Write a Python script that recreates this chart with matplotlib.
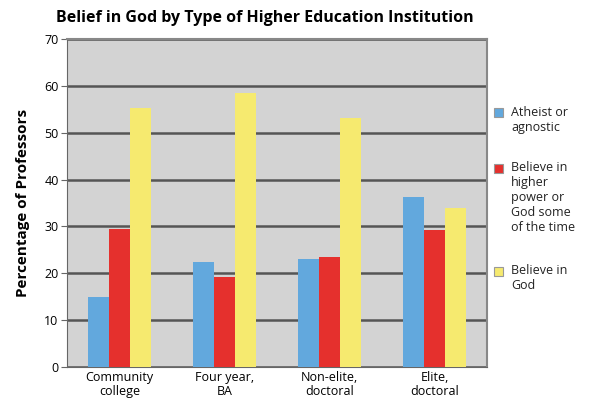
import matplotlib
matplotlib.use("Agg")
import matplotlib.pyplot as plt
import numpy as np
from matplotlib.patches import Rectangle

categories = ["Community\ncollege", "Four year,\nBA", "Non-elite,\ndoctoral", "Elite,\ndoctoral"]
series_names = ["Atheist or\nagnostic", "Believe in\nhigher\npower or\nGod some\nof the time", "Believe in\nGod"]
atheist = [15, 22.5, 23, 36.3]
higher_power = [29.5, 19.2, 23.4, 29.2]
believe_god = [55.3, 58.5, 53.2, 34]
yticks = [0, 10, 20, 30, 40, 50, 60, 70]

colors = ["#62a8dd", "#e5302d", "#f6ea6f"]

plt.rcParams['font.family'] = ['Open Sans', 'DejaVu Sans']

W, H = 592, 404
fig = plt.figure(figsize=(W / 100, H / 100), dpi=100)
ax = fig.add_axes([0.113, 0.092, 0.710, 0.811])
ax.set_facecolor("#d3d3d3")

x = np.arange(len(categories))
w = 0.2
for i, (vals, c) in enumerate(zip([atheist, higher_power, believe_god], colors)):
    ax.bar(x + (i - 1) * w, vals, width=w, color=c, zorder=3)

ax.set_xlim(-0.5, 3.5)
ax.set_ylim(0, 70)
ax.set_yticks(yticks)
ax.yaxis.grid(True, color="#555555", linewidth=1.8, zorder=1)
ax.set_axisbelow(True)
for s in ["top", "right"]:
    ax.spines[s].set_color("#888888")
    ax.spines[s].set_linewidth(1.5)
ax.spines["left"].set_color("#666666")
ax.spines["bottom"].set_color("#666666")
ax.set_xticks(x)
ax.set_xticklabels(categories, fontsize=9, linespacing=1.1)
ax.tick_params(axis="x", length=0, pad=3)
ax.tick_params(axis="y", labelsize=9, length=4, color="#666666", pad=2)
ax.set_ylabel("Percentage of Professors", fontsize=11, fontweight="bold", labelpad=10)
fig.text(265 / W, 1 - 18 / H, "Belief in God by Type of Higher Education Institution",
         ha="center", va="center", fontsize=11.5, fontweight="bold")

# manual legend (first-line centers in pixels from top)
line_centers = [113, 168, 271]
for name, c, yc in zip(series_names, colors, line_centers):
    fig.add_artist(Rectangle((494 / W, 1 - (yc + 4.5) / H), 9 / W, 9 / H,
                             transform=fig.transFigure, facecolor=c,
                             edgecolor="#999999", linewidth=0.8))
    fig.text(511 / W, 1 - (yc - 7) / H, name, ha="left", va="top",
             fontsize=9, linespacing=1.2, color="#222222")

fig.savefig("out.png", dpi=100)
